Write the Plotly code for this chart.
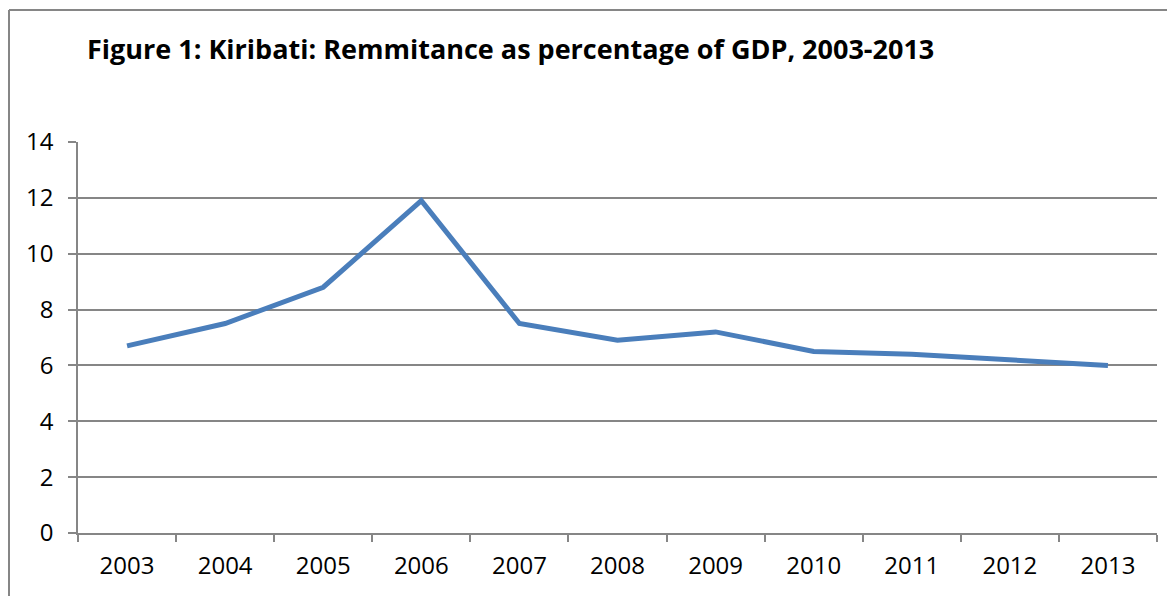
import plotly.graph_objects as go

years = ["2003", "2004", "2005", "2006", "2007", "2008", "2009", "2010", "2011", "2012", "2013"]
remittance_pct = [6.7, 7.5, 8.8, 11.9, 7.5, 6.9, 7.2, 6.5, 6.4, 6.2, 6.0]
y_ticks = [0, 2, 4, 6, 8, 10, 12, 14]
title_text = "Figure 1: Kiribati: Remmitance as percentage of GDP, 2003-2013"

W, H = 1175, 596
OFF = 8  # page body margin offset
ml, mr, mt, mb = 78 - OFF, 26, 142 - OFF, 71
pw, ph = W - ml - mr, H - mt - mb

def px_x(p):
    return (p - OFF - ml) / pw

def px_y(p):
    return (H - mb - (p - OFF)) / ph

grey = "#868686"
font_family = "Open Sans, Liberation Sans, sans-serif"

fig = go.Figure()
fig.add_trace(go.Scatter(
    x=years, y=remittance_pct, mode="lines",
    line=dict(color="#4a7ebb", width=5),
    showlegend=False, hoverinfo="x+y",
))

fig.update_layout(
    width=W, height=H,
    margin=dict(l=ml, r=mr, t=mt, b=mb),
    paper_bgcolor="white", plot_bgcolor="white",
    font=dict(family=font_family, size=24, color="black"),
    title=dict(
        text="<b>" + title_text + "</b>",
        x=(87 - OFF) / W, xanchor="left",
        y=1 - (50 - OFF) / H, yanchor="middle",
        font=dict(family=font_family, size=27, color="black"),
    ),
    xaxis=dict(
        type="category", range=[-0.5, len(years) - 0.5],
        tickson="boundaries", ticks="outside", ticklen=7, tickwidth=1.5,
        tickcolor=grey, showline=True, linecolor=grey, linewidth=1.5,
        showgrid=False, zeroline=False, fixedrange=True,
        ticklabelstandoff=10, tickfont=dict(size=24),
    ),
    yaxis=dict(
        range=[0, 14], tickvals=y_ticks, ticks="outside", ticklen=8,
        tickwidth=1.5, tickcolor=grey, showline=True, linecolor=grey,
        linewidth=1.5, showgrid=True, gridcolor=grey, gridwidth=1.5,
        zeroline=False, ticklabelstandoff=10, fixedrange=True,
        tickfont=dict(size=24),
    ),
    shapes=[
        dict(type="line", xref="paper", yref="paper",
             x0=px_x(9), x1=px_x(1250), y0=px_y(10), y1=px_y(10),
             line=dict(color=grey, width=2)),
        dict(type="line", xref="paper", yref="paper",
             x0=px_x(9), x1=px_x(9), y0=px_y(10), y1=px_y(650),
             line=dict(color=grey, width=2)),
    ],
)

fig.write_html("out.html")
